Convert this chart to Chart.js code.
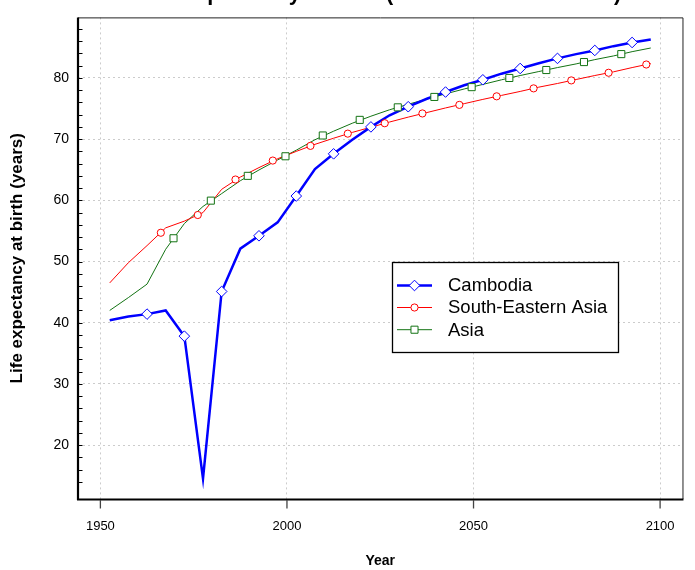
<!DOCTYPE html>
<html><head><meta charset="utf-8">
<script src="https://cdn.jsdelivr.net/npm/chart.js@4.4.0/dist/chart.umd.min.js"></script>
<style>html,body{margin:0;padding:0;background:#fff;overflow:hidden}canvas{display:block}</style>
</head><body>
<canvas id="c" width="695" height="570"></canvas>
<script>
const chartTitle = 'Life expectancy at birth (both sexes combined)';
const xAxisTitle = 'Year';
const yAxisTitle = 'Life expectancy at birth (years)';
const seriesNames = ['Cambodia', 'South-Eastern Asia', 'Asia'];

const years = [1952.5, 1957.5, 1962.5, 1967.5, 1972.5, 1977.5, 1982.5, 1987.5, 1992.5, 1997.5,
  2002.5, 2007.5, 2012.5, 2017.5, 2022.5, 2027.5, 2032.5, 2037.5, 2042.5, 2047.5,
  2052.5, 2057.5, 2062.5, 2067.5, 2072.5, 2077.5, 2082.5, 2087.5, 2092.5, 2097.5];
const cambodia = [40.4, 41.0, 41.4, 42.0, 37.8, 14.5, 45.1, 52.1, 54.2, 56.4,
  60.7, 65.1, 67.6, 69.9, 72.0, 73.9, 75.3, 76.6, 77.7, 78.8,
  79.7, 80.7, 81.55, 82.4, 83.2, 83.9, 84.5, 85.2, 85.8, 86.3];
const seAsia = [46.5, 49.8, 52.6, 55.5, 56.6, 58.0, 61.8, 63.8, 65.35, 66.8,
  68.0, 69.15, 70.15, 71.1, 71.95, 72.8, 73.6, 74.35, 75.1, 75.8,
  76.5, 77.15, 77.8, 78.5, 79.1, 79.75, 80.4, 81.0, 81.7, 82.35];
const asia = [42.0, 44.1, 46.3, 52.0, 56.2, 59.0, 61.1, 63.2, 64.96, 66.6,
  68.2, 69.9, 71.3, 72.6, 73.75, 74.8, 75.7, 76.55, 77.4, 78.2,
  78.95, 79.7, 80.4, 81.05, 81.7, 82.3, 83.0, 83.6, 84.3, 84.9];

// marker positions as drawn in the reference
const cambodiaMarkerYears = [1962.5, 1972.5, 1982.5, 1992.5, 2002.5, 2012.5, 2022.5, 2032.5, 2042.5, 2052.5, 2062.5, 2072.5, 2082.5, 2092.5];
const cambodiaMarkerValues = [41.4, 37.8, 45.1, 54.2, 60.7, 67.6, 72.0, 75.3, 77.7, 79.7, 81.55, 83.2, 84.5, 85.8];
const seAsiaMarkerYears = [1966.2, 1976.1, 1986.2, 1996.2, 2006.3, 2016.3, 2026.2, 2036.3, 2046.2, 2056.2, 2066.1, 2076.2, 2086.2, 2096.3];
const seAsiaMarkerValues = [54.7, 57.6, 63.4, 66.5, 68.9, 70.9, 72.6, 74.2, 75.6, 77.0, 78.3, 79.6, 80.85, 82.2];
const asiaMarkerYears = [1969.6, 1979.6, 1989.5, 1999.6, 2009.6, 2019.5, 2029.7, 2039.5, 2049.5, 2059.6, 2069.5, 2079.6, 2089.6];
const asiaMarkerValues = [53.8, 59.95, 64.0, 67.2, 70.6, 73.15, 75.2, 76.9, 78.5, 80.0, 81.3, 82.6, 83.9];

const xTickValues = [1950, 2000, 2050, 2100];
const yTickValues = [20, 30, 40, 50, 60, 70, 80];
const yMinorTickValues = [14, 16, 18, 20, 22, 24, 26, 28, 30, 32, 34, 36, 38, 40, 42, 44, 46, 48, 50,
  52, 54, 56, 58, 60, 62, 64, 66, 68, 70, 72, 74, 76, 78, 80, 82, 84, 86, 88];

const COLORS = ['#0000ff', '#ff0000', '#137313'];
const LINEW = [2.5, 1, 1];
const SHAPES = ['rectRot', 'circle', 'rect'];
const RADII = [5.3, 3.6, 5.0];
const FONT = '"Liberation Sans", Arial, sans-serif';

const pts = (xs, ys) => xs.map((x, i) => ({x, y: ys[i]}));

const lineSets = [cambodia, seAsia, asia].map((vals, i) => ({
  type: 'line', label: seriesNames[i], data: pts(years, vals),
  borderColor: COLORS[i], borderWidth: LINEW[i], pointRadius: 0, tension: 0, fill: false, order: 2
}));
const markerSets = [[cambodiaMarkerYears, cambodiaMarkerValues], [seAsiaMarkerYears, seAsiaMarkerValues], [asiaMarkerYears, asiaMarkerValues]].map((m, i) => ({
  type: 'line', label: seriesNames[i] + ' markers', data: pts(m[0], m[1]), showLine: false,
  pointStyle: SHAPES[i], pointRadius: RADII[i], pointBorderWidth: 1, pointBorderColor: COLORS[i],
  pointBackgroundColor: '#ffffff', order: 1
}));

const decor = {
  id: 'decor',
  afterDraw(chart) {
    const {ctx, chartArea: a, scales: {x, y}} = chart;
    ctx.save();
    // title (partly above the visible page)
    ctx.fillStyle = '#000';
    ctx.font = 'bold 21.6px ' + FONT;
    ctx.textAlign = 'center';
    ctx.textBaseline = 'alphabetic';
    ctx.fillText(chartTitle, 380, -0.5);
    // frame
    ctx.strokeStyle = '#222';
    ctx.lineWidth = 1;
    ctx.beginPath();
    ctx.moveTo(a.left, a.top + 0.5); ctx.lineTo(a.right + 0.5, a.top + 0.5);
    ctx.lineTo(a.right + 0.5, a.bottom);
    ctx.stroke();
    ctx.strokeStyle = '#000';
    ctx.lineWidth = 2.2;
    ctx.beginPath();
    ctx.moveTo(a.left, a.top); ctx.lineTo(a.left, a.bottom + 1);
    ctx.moveTo(a.left - 1, a.bottom + 0.5); ctx.lineTo(a.right + 1, a.bottom + 0.5);
    ctx.stroke();
    // y minor ticks (inward)
    ctx.lineWidth = 1;
    ctx.beginPath();
    yMinorTickValues.forEach(v => {
      const py = Math.round(y.getPixelForValue(v)) + 0.5;
      ctx.moveTo(a.left, py); ctx.lineTo(a.left + 4.5, py);
    });
    ctx.stroke();
    // x ticks (outward)
    ctx.strokeStyle = '#444';
    ctx.lineWidth = 1.3;
    ctx.beginPath();
    xTickValues.forEach(v => {
      const px = x.getPixelForValue(v);
      ctx.moveTo(px, a.bottom + 1); ctx.lineTo(px, a.bottom + 9.5);
    });
    ctx.stroke();
    // legend
    const L = 392, T = 262, R = 618, B = 352;
    ctx.fillStyle = '#fff';
    ctx.fillRect(L, T, R - L, B - T);
    ctx.strokeStyle = '#000';
    ctx.lineWidth = 1.3;
    ctx.strokeRect(L + 0.5, T + 0.5, R - L, B - T);
    const rowsY = [285.5, 307.5, 329.7];
    const baseY = [291, 313.2, 335.8];
    seriesNames.forEach((name, i) => {
      const ry = rowsY[i];
      ctx.strokeStyle = COLORS[i];
      ctx.lineWidth = LINEW[i];
      ctx.beginPath(); ctx.moveTo(397, ry); ctx.lineTo(432, ry); ctx.stroke();
      ctx.lineWidth = 1;
      ctx.fillStyle = '#fff';
      Chart.helpers.drawPoint(ctx, {pointStyle: SHAPES[i], radius: RADII[i], borderWidth: 1}, 414.5, ry);
      ctx.fillStyle = '#000';
      ctx.font = '18.5px ' + FONT;
      ctx.textAlign = 'left';
      ctx.textBaseline = 'alphabetic';
      ctx.fillText(name, 448, baseY[i]);
    });
    ctx.restore();
  }
};

new Chart(document.getElementById('c'), {
  data: {datasets: [...markerSets, ...lineSets]},
  options: {
    responsive: false, animation: false, devicePixelRatio: 1,
    layout: {padding: {left: 0, right: 12, top: 8, bottom: 0}},
    plugins: {legend: {display: false}, tooltip: {enabled: false}, title: {display: false}},
    scales: {
      x: {
        type: 'linear', position: 'bottom', min: 1944, max: 2106,
        afterBuildTicks: s => { s.ticks = xTickValues.map(v => ({value: v})); },
        afterFit: s => { s.height = 71; },
        grid: {color: '#cccccc', lineWidth: 1, drawTicks: false},
        border: {display: false, dash: [2, 3]},
        ticks: {padding: 20, color: '#000', autoSkip: false, maxRotation: 0,
          font: {family: FONT, size: 13}, callback: v => String(v)},
        title: {display: true, text: xAxisTitle, color: '#000',
          font: {family: FONT, size: 14, weight: 'bold'}, padding: {top: 0, bottom: 0}}
      },
      y: {
        type: 'linear', position: 'left', min: 11.18, max: 89.9,
        afterBuildTicks: s => { s.ticks = yTickValues.map(v => ({value: v})); },
        afterFit: s => { s.width = 78; },
        grid: {color: '#cccccc', lineWidth: 1, drawTicks: false},
        border: {display: false, dash: [2, 3]},
        ticks: {padding: 9, color: '#000', autoSkip: false,
          font: {family: FONT, size: 14}, callback: v => String(v)},
        title: {display: true, text: yAxisTitle, color: '#000',
          font: {family: FONT, size: 17, weight: 'bold'}, padding: {top: 7, bottom: 0}}
      }
    }
  },
  plugins: [decor]
});
</script>
</body></html>
